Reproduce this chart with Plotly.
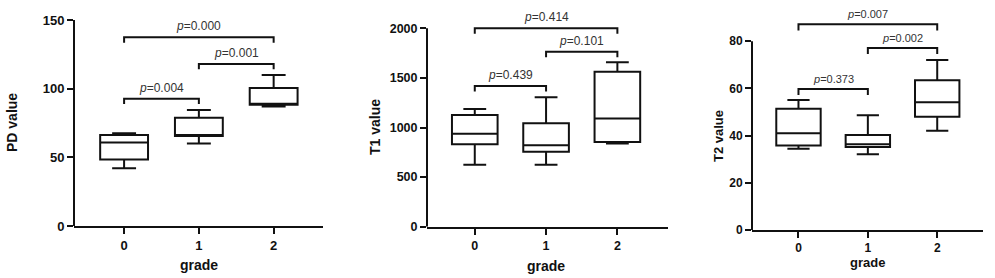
import plotly.graph_objects as go

W, H = 995, 278

grades = [0, 1, 2]
grade_labels = ["0", "1", "2"]

# PD value
pd_min = [42, 60, 87]
pd_q1 = [48.5, 65.6, 88.3]
pd_med = [60.8, 66.2, 88.8]
pd_q3 = [66.3, 78.8, 100.5]
pd_max = [67.5, 84.5, 110]

# T1 value
t1_min = [625, 625, 840]
t1_q1 = [830, 756, 854]
t1_med = [938, 820, 1092]
t1_q3 = [1126, 1042, 1563]
t1_max = [1187, 1304, 1657]

# T2 value
t2_min = [34.4, 32.1, 42.1]
t2_q1 = [35.8, 35.2, 48.0]
t2_med = [41.0, 36.3, 54.2]
t2_q3 = [51.4, 40.3, 63.5]
t2_max = [55.1, 48.6, 72.1]

# significance brackets: (from, to, height, p-value text)
pd_pairs = [(0, 1, 92.7, "0.004"), (1, 2, 118, "0.001"), (0, 2, 137.4, "0.000")]
t1_pairs = [(0, 1, 1418, "0.439"), (1, 2, 1764, "0.101"), (0, 2, 2000, "0.414")]
t2_pairs = [(0, 1, 59.8, "0.373"), (1, 2, 77.2, "0.002"), (0, 2, 87.2, "0.007")]

ink = "#111111"
FONT = "Liberation Sans, Arial, sans-serif"

panels = [
    dict(stats=(pd_min, pd_q1, pd_med, pd_q3, pd_max), pairs=pd_pairs, title="PD value",
         xpx=(74, 323), ypx=(226, 20), yrange=(0, 150), ytop=150, dtick=50, xrange=(-0.67, 2.66),
         tick=13, pfont=12, ttl=14, ytitle_x=12, ytitle_y=123, xtitle_y=265, drop=3.9),
    dict(stats=(t1_min, t1_q1, t1_med, t1_q3, t1_max), pairs=t1_pairs, title="T1 value",
         xpx=(427, 668), ypx=(226.7, 18.4), yrange=(0, 2100), ytop=2000, dtick=500, xrange=(-0.67, 2.71),
         tick=12.5, pfont=12, ttl=14, ytitle_x=375, ytitle_y=127, xtitle_y=266, drop=56),
    dict(stats=(t2_min, t2_q1, t2_med, t2_q3, t2_max), pairs=t2_pairs, title="T2 value",
         xpx=(752, 983), ypx=(230, 17.7), yrange=(0, 90), ytop=80, dtick=20, xrange=(-0.67, 2.66),
         tick=12, pfont=11, ttl=13, ytitle_x=718, ytitle_y=136, xtitle_y=262, drop=2.6),
]

fig = go.Figure()
shapes = []
annotations = []

for i, p in enumerate(panels):
    n = "" if i == 0 else str(i + 1)
    xa, ya = "x" + n, "y" + n
    mn, q1, med, q3, mx = p["stats"]
    fig.add_trace(go.Box(
        x=grades, lowerfence=mn, q1=q1, median=med, q3=q3, upperfence=mx,
        width=0.64, whiskerwidth=0.5, fillcolor="white",
        line=dict(color=ink, width=2), boxpoints=False, showlegend=False,
        hoverinfo="skip", xaxis=xa, yaxis=ya,
    ))
    xd = [p["xpx"][0] / W, p["xpx"][1] / W]
    yd = [1 - p["ypx"][0] / H, 1 - p["ypx"][1] / H]
    fig.update_layout(**{
        "xaxis" + n: dict(domain=xd, range=list(p["xrange"]), anchor=ya,
                          tickvals=grades, ticktext=grade_labels, showline=True,
                          linecolor=ink, linewidth=2, ticks="outside", ticklen=6,
                          tickwidth=2, tickcolor=ink, showgrid=False, zeroline=False,
                          automargin=False,
                          tickfont=dict(family=FONT, size=p["tick"], color=ink, weight="bold")),
        "yaxis" + n: dict(domain=yd, range=list(p["yrange"]), anchor=xa,
                          tickvals=list(range(0, p["ytop"] + 1, p["dtick"])),
                          showline=False, ticks="outside", ticklen=6, tickwidth=2,
                          tickcolor=ink, showgrid=False, zeroline=False, automargin=False,
                          tickfont=dict(family=FONT, size=p["tick"], color=ink, weight="bold")),
    })
    # y axis line only up to the last tick
    shapes.append(dict(type="line", xref=xa + " domain", yref=ya, x0=0, x1=0,
                       y0=0, y1=p["ytop"], line=dict(color=ink, width=2)))
    for (a, b, h, lab) in p["pairs"]:
        shapes.append(dict(type="path", xref=xa, yref=ya,
                           path=f"M {a},{h - p['drop']} L {a},{h} L {b},{h} L {b},{h - p['drop']}",
                           line=dict(color=ink, width=2)))
        annotations.append(dict(x=(a + b) / 2, y=h, xref=xa, yref=ya,
                                xanchor="center", yanchor="bottom",
                                text=f"<i>p</i>={lab}", showarrow=False, yshift=2,
                                font=dict(family=FONT, size=p["pfont"], color="#333333")))
    annotations.append(dict(x=p["ytitle_x"] / W, y=1 - p["ytitle_y"] / H, xref="paper", yref="paper",
                            xanchor="center", yanchor="middle",
                            text=p["title"], textangle=-90, showarrow=False,
                            font=dict(family=FONT, size=p["ttl"], color=ink, weight="bold")))
    annotations.append(dict(x=1, y=1 - p["xtitle_y"] / H, xref=xa, yref="paper",
                            xanchor="center", yanchor="middle",
                            text="grade", showarrow=False,
                            font=dict(family=FONT, size=p["ttl"], color=ink, weight="bold")))

fig.update_layout(width=W, height=H, margin=dict(l=0, r=0, t=0, b=0),
                  paper_bgcolor="white", plot_bgcolor="white",
                  shapes=shapes, annotations=annotations,
                  font=dict(family=FONT, color=ink))

fig.write_html("out.html", config={"displayModeBar": False},
               post_script="document.body.style.margin='0px';")
